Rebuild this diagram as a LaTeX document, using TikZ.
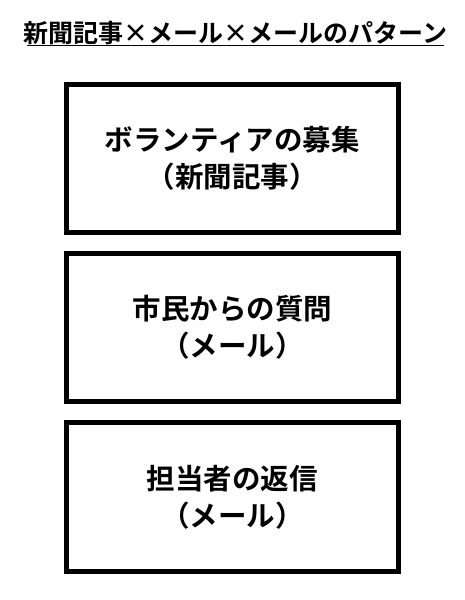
\documentclass[tikz,border=0pt]{standalone}
\usepackage{fontspec}
\newfontfamily\jpb{Noto Sans CJK JP Bold}
\begin{document}
\begin{tikzpicture}[x=1pt,y=-1pt,
  boxstyle/.style={draw=black,line width=5pt,minimum width=331.5pt,minimum height=148.5pt,inner sep=0pt},
  lbl/.style={font=\jpb\fontsize{28.5}{37}\selectfont,align=center}]
\useasboundingbox (0,0) rectangle (464,600);
\node[anchor=base,font=\jpb\fontsize{25}{28}\selectfont] (title) at (235.5,42) {新聞記事×メール×メールのパターン};
\draw[line width=1.5pt] (27,45.5) -- (444,45.5);
\node[boxstyle] (b1) at (232.25,158.25) {};
\node[boxstyle] (b2) at (232.25,327.5) {};
\node[boxstyle] (b3) at (232.25,497) {};
\node[lbl] (t1) at (b1) {ボランティアの募集\\（新聞記事）};
\node[lbl] (t2) at (b2) {市民からの質問\\（メール）};
\node[lbl] (t3) at (b3) {担当者の返信\\（メール）};
\end{tikzpicture}
\end{document}
